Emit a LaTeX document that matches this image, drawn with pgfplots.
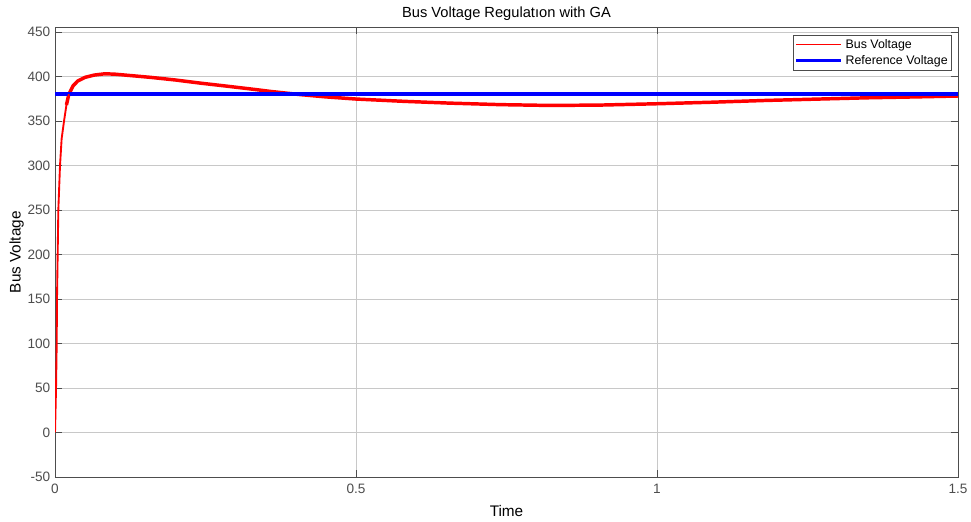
\documentclass[border=0pt]{standalone}
\usepackage{pgfplots}
\pgfplotsset{compat=1.18}
\usepackage{fontspec}
\setmainfont{Liberation Sans}
\definecolor{tickgray}{RGB}{77,77,77}
\definecolor{gridgray}{RGB}{200,200,200}
\begin{document}
\begin{tikzpicture}[x=1pt,y=1pt]
\begin{axis}[
  scale only axis,
  width=677pt, height=337pt,
  xmin=0, xmax=1.5, ymin=-50, ymax=455,
  xtick={0,0.5,1,1.5},
  xticklabels={0,0.5,1,1.5},
  ytick={-50,0,50,100,150,200,250,300,350,400,450},
  yticklabels={-50,0,50,100,150,200,250,300,350,400,450},
  tick align=inside,
  tick style={tickgray, line width=0.6pt},
  major tick length=5pt,
  axis line style={tickgray, line width=0.6pt},
  grid=major,
  major grid style={gridgray, line width=0.6pt},
  ticklabel style={font=\fontsize{10.2}{12}\selectfont, text=tickgray},
  xticklabel style={yshift=-2pt},
  title={Bus Voltage Regulatıon with GA},
  title style={font=\fontsize{11}{13}\selectfont, yshift=-4pt},
  xlabel={Time},
  ylabel={Bus Voltage},
  label style={font=\fontsize{11.5}{13}\selectfont},
  xlabel style={yshift=-2pt},
  ylabel style={yshift=-4pt},
  legend style={at={(rel axis cs:1,1)}, anchor=north east, xshift=-4.5pt, yshift=-5.5pt,
    font=\fontsize{9.3}{11}\selectfont, draw=black!70, line width=0.5pt,
    inner sep=1pt, row sep=0pt},
  legend cell align=left,
  clip=true,
]
\addplot[red, line width=2.6pt, line join=round,
  legend image code/.code={\draw[red, line width=0.8pt] (0pt,0pt) -- (34pt,0pt);}]
coordinates {
(0.019,368) (0.023,380) (0.03,389.5)
(0.038,395) (0.05,399) (0.065,401.5) (0.083,403) (0.1,402.5) (0.125,401)
(0.158,399) (0.2,396) (0.241,392.5) (0.28,389.5) (0.324,386) (0.36,383)
(0.407,379.6) (0.45,377) (0.5,374.6) (0.58,372) (0.656,370) (0.74,368.3)
(0.822,367.4) (0.905,367.8) (1.0,369.3) (1.09,371) (1.18,373) (1.27,374.6)
(1.35,376) (1.43,377) (1.5,378)
};
\addlegendentry{Bus Voltage}
\addplot[blue, line width=3pt,
  legend image code/.code={\draw[blue, line width=2.2pt] (0pt,0pt) -- (34pt,0pt);}]
coordinates {(0,380) (1.5,380)};
\addlegendentry{Reference Voltage}
\addplot[red, line width=1.4pt, line join=round, forget plot]
coordinates {
(0,0) (0.0017,50) (0.0028,100) (0.0033,150) (0.0044,200) (0.0055,250)
(0.0083,300) (0.011,330) (0.015,350) (0.019,368) (0.023,380)
};
\end{axis}
\pgfresetboundingbox
\path (current axis.south west) ++(-41.25pt,-33.5pt) coordinate (bl);
\path (current axis.north east) ++(9.75pt,20.6pt) coordinate (tr);
\path (bl) rectangle (tr);
\end{tikzpicture}
\end{document}
